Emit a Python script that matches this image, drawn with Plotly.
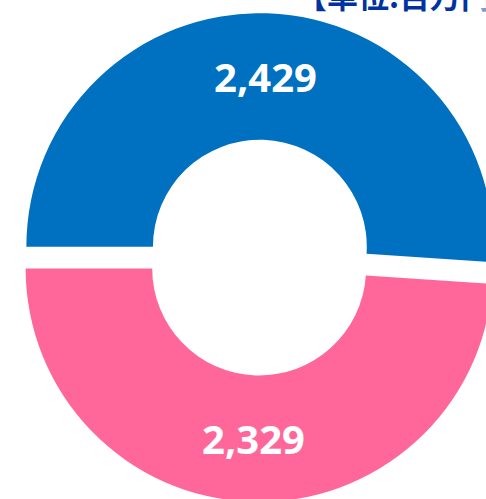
import plotly.graph_objects as go

# ---- data ----
labels = ["A", "B"]
values = [2429, 2329]
colors = ["#0070C0", "#FF6699"]
unit_title = "【単位:百万円】"

# ---- layout geometry (page pixels) ----
FIG_W, FIG_H = 540, 540
CX, CY = 259.5, 257.6      # donut centre before pull
R = 233.5                  # outer radius
PULL = 0.0467
HOLE = 0.458
half = R * (1 + PULL)

dom_x = [(CX - half) / FIG_W, (CX + half) / FIG_W]
dom_y = [1 - (CY + half) / FIG_H, 1 - (CY - half) / FIG_H]

fig = go.Figure(
    go.Pie(
        labels=labels,
        values=values,
        sort=False,
        direction="clockwise",
        rotation=-90,
        hole=HOLE,
        pull=[PULL, PULL],
        marker=dict(colors=colors, line=dict(width=0)),
        textinfo="value",
        texttemplate="%{value:,}",
        textposition="inside",
        insidetextorientation="horizontal",
        textfont=dict(family="Noto Sans", size=40, color="white", weight="bold"),
        domain=dict(x=dom_x, y=dom_y),
        showlegend=False,
        hoverinfo="skip",
    )
)

fig.add_annotation(
    text=unit_title,
    xref="paper", yref="paper",
    x=294 / FIG_W, y=1 - 19 / FIG_H,
    xanchor="left", yanchor="bottom",
    showarrow=False,
    font=dict(family="Noto Sans CJK JP", size=31, color="#0033A0", weight="bold"),
)

fig.update_layout(
    width=FIG_W, height=FIG_H,
    margin=dict(l=0, r=0, t=0, b=0),
    paper_bgcolor="white",
    plot_bgcolor="white",
)

fig.write_html(
    "out.html",
    post_script="document.body.style.margin='0';document.body.style.overflow='hidden';document.documentElement.style.overflow='hidden';",
)
